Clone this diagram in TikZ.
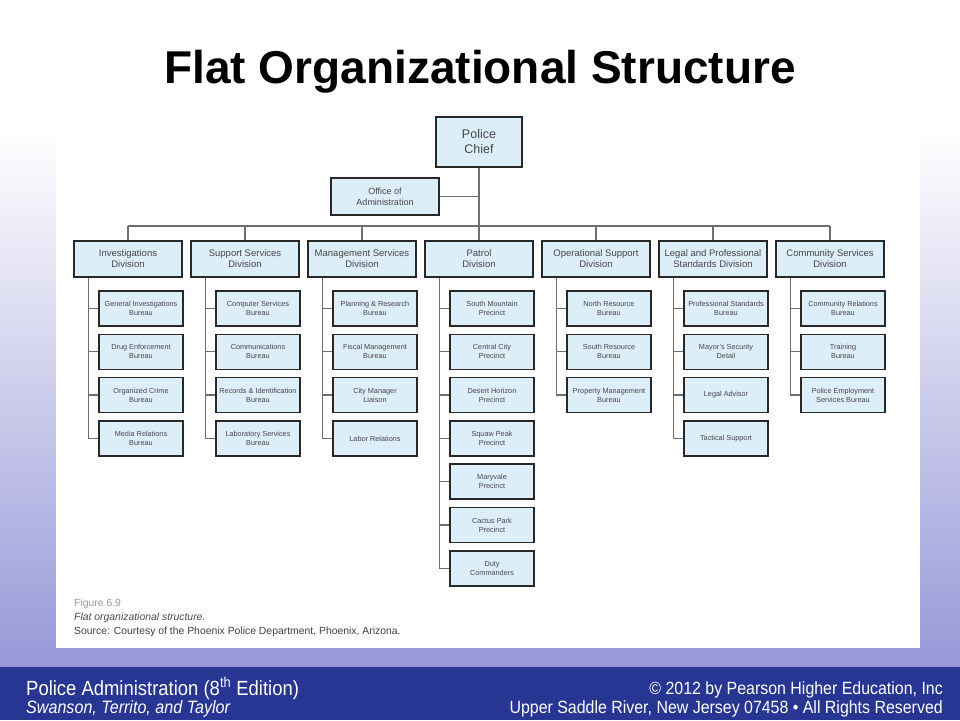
\documentclass[tikz,border=0pt]{standalone}
\usepackage{fontspec}
\setmainfont{Liberation Sans}
\newfontfamily\narrowfont[FakeStretch=0.9]{Liberation Sans}
\definecolor{bgbottom}{RGB}{152,152,216}
\definecolor{footerblue}{RGB}{38,54,146}
\definecolor{boxfill}{RGB}{220,238,248}
\definecolor{boxline}{RGB}{40,40,40}
\definecolor{boxtext}{RGB}{70,70,70}
\definecolor{linkgray}{RGB}{110,110,110}
\pgfdeclarelayer{slide}
\pgfdeclarelayer{links}
\pgfsetlayers{slide,links,main}
\tikzset{
	orgbox/.style={
		draw=boxline, fill=boxfill, line width=1.6pt, align=center,
		text=boxtext, inner sep=1pt
	},
	chiefbox/.style={orgbox, minimum width=86pt, minimum height=50pt,
		font={\fontsize{12.5}{15}\selectfont}},
	officebox/.style={orgbox, minimum width=108pt, minimum height=37pt,
		font={\fontsize{9}{11}\selectfont}},
	divbox/.style={orgbox, minimum width=108pt, minimum height=36pt,
		font={\fontsize{9.5}{11}\selectfont}},
	subbox/.style={orgbox, minimum width=84pt, minimum height=35pt,
		font={\fontsize{7.3}{9}\selectfont}},
	link/.style={draw=linkgray, line width=1.3pt},
	foot/.style={inner sep=0pt, text=white},
	caption/.style={anchor=base west, inner sep=0pt, font={\fontsize{10.4}{12}\selectfont}},
}
\def\rowgap{43.3}

\begin{document}
\begin{tikzpicture}[x=1pt, y=-1pt]
\useasboundingbox (0,0) rectangle (960,720);
% slide background
\begin{pgfonlayer}{slide}
\fill[white] (0,0) rectangle (960,130);
\shade[top color=white, bottom color=bgbottom] (0,130) rectangle (960,667);
\fill[footerblue] (0,667) rectangle (960,720);
\fill[white] (56,103) rectangle (920,648);
\end{pgfonlayer}

\node[anchor=base, inner sep=0pt, font={\fontsize{46}{50}\selectfont\bfseries}] (title)
	at (480,83) {Flat Organizational Structure};

\node[chiefbox] (chief) at (479,142) {Police\\Chief};
\node[officebox] (office) at (385,196.5) {Office of\\Administration};
\coordinate (bus) at (479,226);

% divisions and their bureaus
\foreach \k/\cx/\dname/\subs in {
	1/128/{Investigations\\Division}/{{General Investigations\\Bureau},{Drug Enforcement\\Bureau},{Organized Crime\\Bureau},{Media Relations\\Bureau}},
	2/245/{Support Services\\Division}/{{Computer Services\\Bureau},{Communications\\Bureau},{Records \& Identification\\Bureau},{Laboratory Services\\Bureau}},
	3/362/{Management Services\\Division}/{{Planning \& Research\\Bureau},{Fiscal Management\\Bureau},{City Manager\\Liaison},{Labor Relations}},
	4/479/{Patrol\\Division}/{{South Mountain\\Precinct},{Central City\\Precinct},{Desert Horizon\\Precinct},{Squaw Peak\\Precinct},{Maryvale\\Precinct},{Cactus Park\\Precinct},{Duty\\Commanders}},
	5/596/{Operational Support\\Division}/{{North Resource\\Bureau},{South Resource\\Bureau},{Property Management\\Bureau}},
	6/713/{Legal and Professional\\Standards Division}/{{Professional Standards\\Bureau},{Mayor's Security\\Detail},{Legal Advisor},{Tactical Support}},
	7/830/{Community Services\\Division}/{{Community Relations\\Bureau},{Training\\Bureau},{Police Employment\\Services Bureau}}}
{
	\node[divbox] (d\k) at (\cx,259) {\dname};
	\begin{pgfonlayer}{links}
	\draw[link] (bus -| d\k.north) -- (d\k.north);
	\end{pgfonlayer}
	\foreach \t [count=\j] in \subs {
		\node[subbox] (d\k-\j) at (\cx+13,265.2+\rowgap*\j) {\t};
		\begin{pgfonlayer}{links}
		\draw[link] ([xshift=15pt]d\k.south west) |- (d\k-\j.west);
		\end{pgfonlayer}
	}
}

\begin{pgfonlayer}{links}
\draw[link] (chief.south) -- (bus);
\draw[link] (office.east) -- (office.east -| chief.south);
\draw[link] (bus -| d1.north) -- (bus -| d7.north);
\end{pgfonlayer}

% figure caption
\node[caption, text=black!40] (fig) at (74,606) {Figure 6.9};
\node[caption, text=black!70, font={\fontsize{10.4}{12}\selectfont\itshape}] (figtitle)
	at (74,620) {Flat organizational structure.};
\node[caption, text=black!75] (source)
	at (74,634) {Source: Courtesy of the Phoenix Police Department, Phoenix, Arizona.};

% footer
\node[foot, anchor=base west, font={\narrowfont\fontsize{20.5}{22}\selectfont}] (book)
	at (26,695.5) {Police Administration (8\textsuperscript{th} Edition)};
\node[foot, anchor=base west, font={\narrowfont\fontsize{17.9}{20}\selectfont\itshape}] (authors)
	at (26,713.5) {Swanson, Territo, and Taylor};
\node[foot, anchor=base east, font={\narrowfont\fontsize{17.7}{20}\selectfont}] (copy)
	at (943,694) {© 2012 by Pearson Higher Education, Inc};
\node[foot, anchor=base east, font={\narrowfont\fontsize{17.7}{20}\selectfont}] (rights)
	at (943,713) {Upper Saddle River, New Jersey 07458 • All Rights Reserved};
\end{tikzpicture}
\end{document}
